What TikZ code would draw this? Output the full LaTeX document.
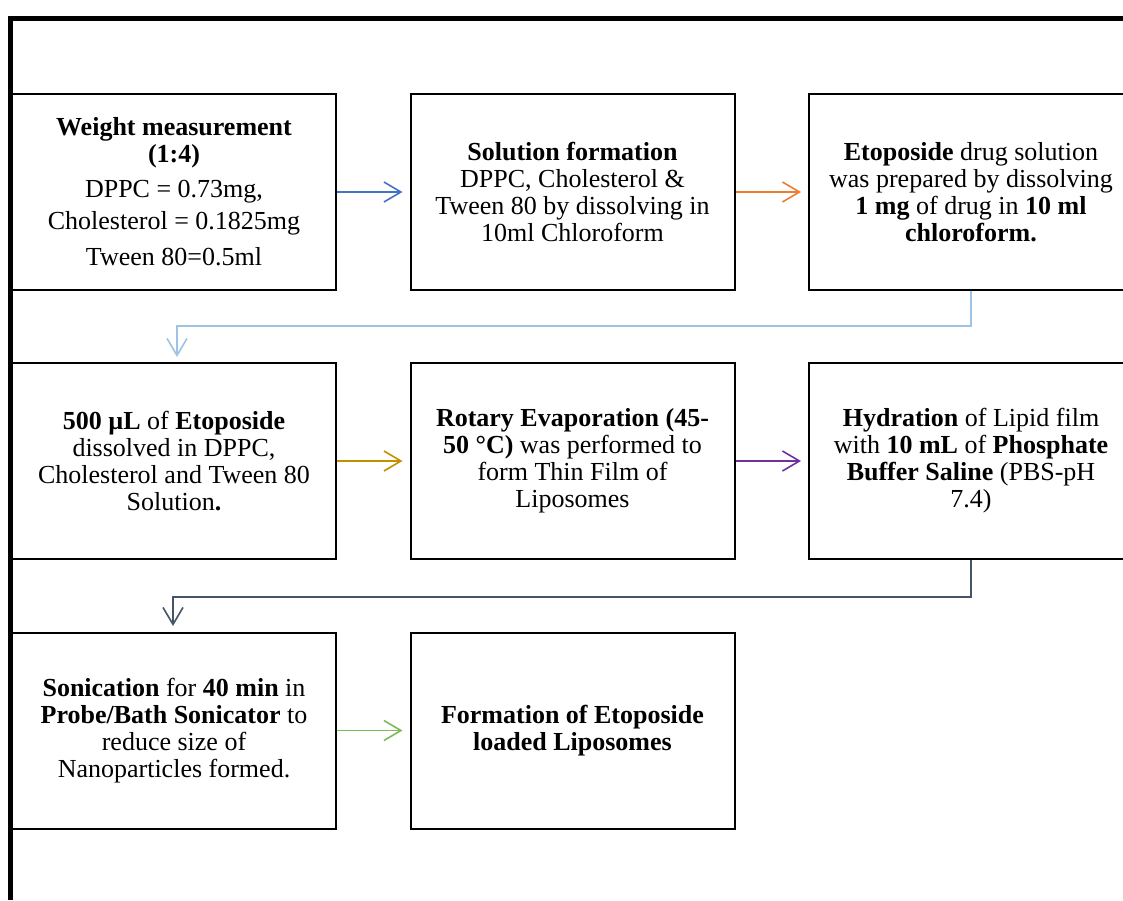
\documentclass[tikz,border=0pt]{standalone}
\usepackage{fontspec}
\setmainfont{Liberation Serif}
\usetikzlibrary{arrows.meta}
\definecolor{cblue}{HTML}{4472C4}
\definecolor{corange}{HTML}{ED7D31}
\definecolor{clight}{HTML}{9DC3E6}
\definecolor{cgold}{HTML}{BF9000}
\definecolor{cpurple}{HTML}{7030A0}
\definecolor{cslate}{HTML}{44546A}
\definecolor{cgreen}{HTML}{7DBA5A}
\tikzset{
  stepbox/.style={draw=black, line width=1pt, minimum width=162pt, minimum height=98pt,
    align=center, inner sep=0pt, font={\fontsize{13pt}{13.5pt}\selectfont}},
  flow/.style={line width=0.8pt, -{Straight Barb[length=8.5pt,width=10pt,line width=0.8pt]}},
  hflow/.style={flow, shorten >=3.5pt},
}
\begin{document}
\begin{tikzpicture}[x=0.5pt,y=-0.5pt]
\useasboundingbox (0,0) rectangle (1123,900);
\fill[white] (0,0) rectangle (1123,900);
% boxes
\node[stepbox] (b1) at (174,192) {\textbf{Weight measurement}\\ \textbf{(1:4)}\\[4pt] DPPC = 0.73mg,\\[2.5pt] Cholesterol = 0.1825mg\\[4.5pt] Tween 80=0.5ml};
\node[stepbox] (b2) at (572.5,192) {\textbf{Solution formation}\\ DPPC, Cholesterol \&\\ Tween 80 by dissolving in\\ 10ml Chloroform};
\node[stepbox] (b3) at (971,192) {\textbf{Etoposide} drug solution\\ was prepared by dissolving\\ \textbf{1 mg} of drug in \textbf{10 ml}\\ \textbf{chloroform.}};
\node[stepbox] (b4) at (174,461) {\textbf{500 µL} of \textbf{Etoposide}\\ dissolved in DPPC,\\ Cholesterol and Tween 80\\ Solution\textbf{.}};
\node[stepbox] (b5) at (572.5,461) {\textbf{Rotary Evaporation (45-}\\ \textbf{50 °C)} was performed to\\ form Thin Film of\\ Liposomes};
\node[stepbox] (b6) at (971,461) {\textbf{Hydration} of Lipid film\\ with \textbf{10 mL} of \textbf{Phosphate}\\ \textbf{Buffer Saline} (PBS-pH\\ 7.4)};
\node[stepbox] (b7) at (174,730.5) {\textbf{Sonication} for \textbf{40 min} in\\ \textbf{Probe/Bath Sonicator} to\\ reduce size of\\ Nanoparticles formed.};
\node[stepbox] (b8) at (572.5,730.5) {\textbf{Formation of Etoposide}\\ \textbf{loaded Liposomes}};
% outer frame
\draw[line width=2.5pt] (10.5,900) -- (10.5,18.5) -- (1123,18.5);
% horizontal arrows
\draw[hflow, cblue] (b1.east) -- (b2.west);
\draw[hflow, corange] (b2.east) -- (b3.west);
\draw[hflow, cgold] (b4.east) -- (b5.west);
\draw[hflow, cpurple] (b5.east) -- (b6.west);
\draw[hflow, cgreen] (b7.east) -- (b8.west);
% row connectors
\coordinate (k1) at (177,326);
\coordinate (t1) at (177,357);
\draw[flow, clight] (b3.south) |- (k1) -- (t1);
\coordinate (k2) at (173,597);
\coordinate (t2) at (173,626);
\draw[flow, cslate] (b6.south) |- (k2) -- (t2);
\end{tikzpicture}
\end{document}
